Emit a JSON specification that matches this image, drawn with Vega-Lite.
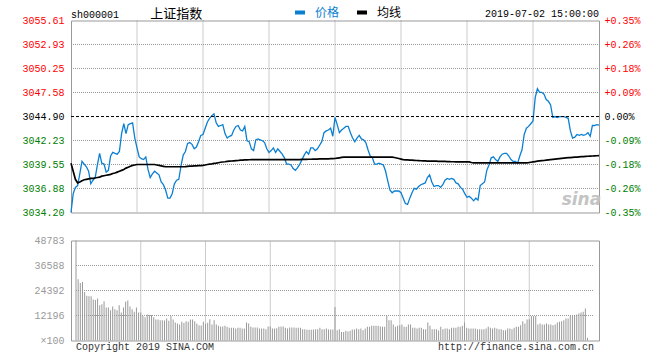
{
"$schema": "https://vega.github.io/schema/vega-lite/v6.json",
"padding": {"left": 21, "top": 5.5, "right": 4, "bottom": 0},
"background": "white",
"config": {
  "font": "Liberation Mono",
  "view": {"stroke": "#999999", "strokeWidth": 1},
  "axis": {"labelFont": "Liberation Mono", "labelFontSize": 10, "ticks": false, "domain": false, "labelOverlap": false, "grid": false}
},
"data": {"values": [
{"i":0,"p":3034.2,"a":3039.7,"v":48783},{"i":1,"p":3036.3,"a":3038.8,"v":29900},{"i":2,"p":3037.0,"a":3037.9,"v":28100},{"i":3,"p":3037.2,"a":3037.5,"v":28500},{"i":4,"p":3038.5,"a":3037.6,"v":23700},{"i":5,"p":3039.9,"a":3037.75,"v":21800},{"i":6,"p":3039.6,"a":3037.85,"v":21600},{"i":7,"p":3039.3,"a":3037.9,"v":21600},{"i":8,"p":3038.8,"a":3037.95,"v":20000},{"i":9,"p":3037.4,"a":3038.0,"v":19700},
{"i":10,"p":3037.8,"a":3038.0,"v":20500},{"i":11,"p":3038.1,"a":3038.05,"v":17200},{"i":12,"p":3039.5,"a":3038.1,"v":17700},{"i":13,"p":3040.8,"a":3038.15,"v":19200},{"i":14,"p":3039.7,"a":3038.25,"v":16100},{"i":15,"p":3039.6,"a":3038.3,"v":16100},{"i":16,"p":3038.7,"a":3038.35,"v":14800},{"i":17,"p":3038.9,"a":3038.4,"v":16600},{"i":18,"p":3040.5,"a":3038.45,"v":15300},{"i":19,"p":3040.9,"a":3038.55,"v":14800},
{"i":20,"p":3040.8,"a":3038.6,"v":17200},{"i":21,"p":3040.7,"a":3038.7,"v":13700},{"i":22,"p":3041.0,"a":3038.8,"v":16100},{"i":23,"p":3043.0,"a":3038.9,"v":18900},{"i":24,"p":3044.1,"a":3039.0,"v":19500},{"i":25,"p":3043.0,"a":3039.15,"v":16600},{"i":26,"p":3044.0,"a":3039.25,"v":15300},{"i":27,"p":3044.1,"a":3039.35,"v":14000},{"i":28,"p":3044.2,"a":3039.45,"v":16100},{"i":29,"p":3042.5,"a":3039.5,"v":13700},
{"i":30,"p":3041.4,"a":3039.55,"v":13700},{"i":31,"p":3040.4,"a":3039.55,"v":12000},{"i":32,"p":3040.2,"a":3039.55,"v":11400},{"i":33,"p":3040.1,"a":3039.55,"v":12700},{"i":34,"p":3040.4,"a":3039.55,"v":12400},{"i":35,"p":3039.0,"a":3039.55,"v":12400},{"i":36,"p":3038.1,"a":3039.55,"v":11400},{"i":37,"p":3038.5,"a":3039.55,"v":10200},{"i":38,"p":3038.8,"a":3039.55,"v":10200},{"i":39,"p":3038.6,"a":3039.5,"v":9900},
{"i":40,"p":3038.4,"a":3039.45,"v":9900},{"i":41,"p":3037.6,"a":3039.4,"v":9800},{"i":42,"p":3037.3,"a":3039.35,"v":10700},{"i":43,"p":3036.7,"a":3039.3,"v":9600},{"i":44,"p":3035.8,"a":3039.3,"v":12000},{"i":45,"p":3035.8,"a":3039.3,"v":10200},{"i":46,"p":3036.3,"a":3039.3,"v":8800},{"i":47,"p":3037.4,"a":3039.3,"v":8300},{"i":48,"p":3037.8,"a":3039.3,"v":7800},{"i":49,"p":3037.9,"a":3039.3,"v":9100},
{"i":50,"p":3039.4,"a":3039.3,"v":8500},{"i":51,"p":3040.6,"a":3039.3,"v":9400},{"i":52,"p":3041.0,"a":3039.32,"v":9100},{"i":53,"p":3041.9,"a":3039.35,"v":10200},{"i":54,"p":3042.0,"a":3039.37,"v":10200},{"i":55,"p":3041.8,"a":3039.38,"v":9400},{"i":56,"p":3041.3,"a":3039.4,"v":8300},{"i":57,"p":3041.5,"a":3039.4,"v":7500},{"i":58,"p":3042.1,"a":3039.42,"v":7300},{"i":59,"p":3042.8,"a":3039.43,"v":9100},
{"i":60,"p":3042.9,"a":3039.45,"v":8100},{"i":61,"p":3043.6,"a":3039.5,"v":8600},{"i":62,"p":3044.3,"a":3039.55,"v":10400},{"i":63,"p":3044.7,"a":3039.6,"v":7800},{"i":64,"p":3045.0,"a":3039.62,"v":9900},{"i":65,"p":3045.2,"a":3039.67,"v":7800},{"i":66,"p":3044.2,"a":3039.7,"v":7200},{"i":67,"p":3043.8,"a":3039.75,"v":6800},{"i":68,"p":3043.9,"a":3039.8,"v":6800},{"i":69,"p":3044.0,"a":3039.83,"v":7200},
{"i":70,"p":3043.0,"a":3039.86,"v":6700},{"i":71,"p":3042.5,"a":3039.9,"v":6200},{"i":72,"p":3042.7,"a":3039.92,"v":6200},{"i":73,"p":3042.8,"a":3039.94,"v":6200},{"i":74,"p":3043.4,"a":3039.96,"v":5900},{"i":75,"p":3043.8,"a":3039.98,"v":6200},{"i":76,"p":3043.9,"a":3040.0,"v":6200},{"i":77,"p":3043.4,"a":3040.03,"v":5900},{"i":78,"p":3043.3,"a":3040.05,"v":5900},{"i":79,"p":3043.8,"a":3040.06,"v":8800},
{"i":80,"p":3042.2,"a":3040.07,"v":8300},{"i":81,"p":3042.1,"a":3040.08,"v":6700},{"i":82,"p":3041.3,"a":3040.09,"v":6300},{"i":83,"p":3041.1,"a":3040.1,"v":6300},{"i":84,"p":3042.3,"a":3040.1,"v":6300},{"i":85,"p":3042.4,"a":3040.1,"v":5900},{"i":86,"p":3042.3,"a":3040.1,"v":5900},{"i":87,"p":3042.2,"a":3040.1,"v":5900},{"i":88,"p":3042.0,"a":3040.1,"v":5500},{"i":89,"p":3041.3,"a":3040.1,"v":6800},
{"i":90,"p":3040.9,"a":3040.1,"v":6800},{"i":91,"p":3041.1,"a":3040.1,"v":5900},{"i":92,"p":3041.4,"a":3040.1,"v":5900},{"i":93,"p":3040.9,"a":3040.1,"v":6000},{"i":94,"p":3041.3,"a":3040.1,"v":6700},{"i":95,"p":3041.0,"a":3040.1,"v":6800},{"i":96,"p":3040.7,"a":3040.1,"v":6800},{"i":97,"p":3040.3,"a":3040.1,"v":6200},{"i":98,"p":3039.6,"a":3040.1,"v":5900},{"i":99,"p":3039.6,"a":3040.1,"v":6300},
{"i":100,"p":3039.5,"a":3040.1,"v":6300},{"i":101,"p":3039.1,"a":3040.1,"v":6300},{"i":102,"p":3038.9,"a":3040.1,"v":6200},{"i":103,"p":3039.2,"a":3040.1,"v":6200},{"i":104,"p":3039.6,"a":3040.1,"v":6200},{"i":105,"p":3040.1,"a":3040.12,"v":5500},{"i":106,"p":3040.6,"a":3040.12,"v":5500},{"i":107,"p":3041.0,"a":3040.13,"v":5200},{"i":108,"p":3040.7,"a":3040.14,"v":5200},{"i":109,"p":3041.4,"a":3040.14,"v":5200},
{"i":110,"p":3041.4,"a":3040.15,"v":5400},{"i":111,"p":3041.1,"a":3040.16,"v":5500},{"i":112,"p":3041.3,"a":3040.16,"v":5500},{"i":113,"p":3041.7,"a":3040.17,"v":6200},{"i":114,"p":3042.1,"a":3040.17,"v":5500},{"i":115,"p":3043.1,"a":3040.18,"v":5500},{"i":116,"p":3043.3,"a":3040.19,"v":5900},{"i":117,"p":3043.4,"a":3040.19,"v":5400},{"i":118,"p":3043.6,"a":3040.2,"v":5400},{"i":119,"p":3042.7,"a":3040.2,"v":5400},
{"i":120,"p":3044.8,"a":3040.22,"v":16400},{"i":121,"p":3044.0,"a":3040.26,"v":5000},{"i":122,"p":3043.1,"a":3040.3,"v":5500},{"i":123,"p":3043.4,"a":3040.34,"v":4200},{"i":124,"p":3043.6,"a":3040.37,"v":4200},{"i":125,"p":3043.8,"a":3040.37,"v":4700},{"i":126,"p":3043.8,"a":3040.37,"v":4400},{"i":127,"p":3043.1,"a":3040.37,"v":4700},{"i":128,"p":3042.5,"a":3040.37,"v":5400},{"i":129,"p":3042.1,"a":3040.37,"v":5400},
{"i":130,"p":3042.5,"a":3040.37,"v":5900},{"i":131,"p":3042.8,"a":3040.37,"v":5500},{"i":132,"p":3042.4,"a":3040.37,"v":5900},{"i":133,"p":3042.3,"a":3040.37,"v":5000},{"i":134,"p":3042.0,"a":3040.37,"v":5900},{"i":135,"p":3041.2,"a":3040.37,"v":6700},{"i":136,"p":3040.5,"a":3040.37,"v":6700},{"i":137,"p":3040.3,"a":3040.37,"v":7200},{"i":138,"p":3039.6,"a":3040.37,"v":7200},{"i":139,"p":3039.6,"a":3040.37,"v":7200},
{"i":140,"p":3039.7,"a":3040.37,"v":7200},{"i":141,"p":3039.6,"a":3040.37,"v":6800},{"i":142,"p":3039.5,"a":3040.37,"v":6700},{"i":143,"p":3038.8,"a":3040.37,"v":6700},{"i":144,"p":3037.7,"a":3040.37,"v":12000},{"i":145,"p":3036.7,"a":3040.37,"v":9900},{"i":146,"p":3036.4,"a":3040.37,"v":9900},{"i":147,"p":3036.6,"a":3040.33,"v":7800},{"i":148,"p":3036.6,"a":3040.28,"v":6700},{"i":149,"p":3036.6,"a":3040.22,"v":7200},
{"i":150,"p":3036.4,"a":3040.16,"v":7500},{"i":151,"p":3035.8,"a":3040.1,"v":7800},{"i":152,"p":3035.2,"a":3040.07,"v":6700},{"i":153,"p":3035.1,"a":3040.06,"v":6700},{"i":154,"p":3035.8,"a":3040.05,"v":7800},{"i":155,"p":3036.4,"a":3040.04,"v":7800},{"i":156,"p":3036.9,"a":3040.02,"v":6200},{"i":157,"p":3036.8,"a":3040.0,"v":6200},{"i":158,"p":3037.1,"a":3039.99,"v":5900},{"i":159,"p":3037.3,"a":3039.97,"v":6200},
{"i":160,"p":3037.4,"a":3039.96,"v":6200},{"i":161,"p":3037.5,"a":3039.95,"v":5500},{"i":162,"p":3038.1,"a":3039.94,"v":5500},{"i":163,"p":3038.4,"a":3039.94,"v":8800},{"i":164,"p":3037.6,"a":3039.93,"v":7200},{"i":165,"p":3037.1,"a":3039.92,"v":5500},{"i":166,"p":3037.2,"a":3039.92,"v":5500},{"i":167,"p":3037.2,"a":3039.91,"v":5500},{"i":168,"p":3037.0,"a":3039.9,"v":4900},{"i":169,"p":3037.3,"a":3039.9,"v":6700},
{"i":170,"p":3037.8,"a":3039.89,"v":5500},{"i":171,"p":3038.0,"a":3039.88,"v":5900},{"i":172,"p":3037.9,"a":3039.87,"v":5900},{"i":173,"p":3038.0,"a":3039.86,"v":5500},{"i":174,"p":3037.9,"a":3039.86,"v":6200},{"i":175,"p":3037.5,"a":3039.85,"v":6200},{"i":176,"p":3037.4,"a":3039.85,"v":6200},{"i":177,"p":3037.0,"a":3039.85,"v":6700},{"i":178,"p":3036.8,"a":3039.85,"v":6700},{"i":179,"p":3036.3,"a":3039.85,"v":7200},
{"i":180,"p":3035.9,"a":3039.85,"v":8800},{"i":181,"p":3036.0,"a":3039.85,"v":6200},{"i":182,"p":3035.8,"a":3039.78,"v":5900},{"i":183,"p":3035.5,"a":3039.73,"v":5900},{"i":184,"p":3035.8,"a":3039.73,"v":5900},{"i":185,"p":3035.6,"a":3039.73,"v":5900},{"i":186,"p":3037.2,"a":3039.73,"v":5500},{"i":187,"p":3037.4,"a":3039.73,"v":5500},{"i":188,"p":3037.6,"a":3039.73,"v":5500},{"i":189,"p":3038.9,"a":3039.73,"v":5500},
{"i":190,"p":3039.5,"a":3039.73,"v":5900},{"i":191,"p":3040.3,"a":3039.73,"v":6700},{"i":192,"p":3040.4,"a":3039.73,"v":6200},{"i":193,"p":3040.1,"a":3039.73,"v":5900},{"i":194,"p":3039.9,"a":3039.73,"v":6200},{"i":195,"p":3040.4,"a":3039.73,"v":5900},{"i":196,"p":3040.7,"a":3039.73,"v":5500},{"i":197,"p":3040.8,"a":3039.73,"v":5500},{"i":198,"p":3040.8,"a":3039.73,"v":5000},{"i":199,"p":3040.5,"a":3039.73,"v":5000},
{"i":200,"p":3040.1,"a":3039.73,"v":5900},{"i":201,"p":3039.9,"a":3039.73,"v":5900},{"i":202,"p":3039.9,"a":3039.73,"v":5500},{"i":203,"p":3039.7,"a":3039.73,"v":6200},{"i":204,"p":3040.5,"a":3039.73,"v":6700},{"i":205,"p":3041.2,"a":3039.73,"v":6700},{"i":206,"p":3042.9,"a":3039.73,"v":7500},{"i":207,"p":3043.6,"a":3039.73,"v":9400},{"i":208,"p":3043.8,"a":3039.76,"v":8300},{"i":209,"p":3044.1,"a":3039.8,"v":10200},
{"i":210,"p":3044.4,"a":3039.84,"v":10400},{"i":211,"p":3047.0,"a":3039.88,"v":12000},{"i":212,"p":3048.0,"a":3039.92,"v":12000},{"i":213,"p":3047.6,"a":3039.95,"v":12000},{"i":214,"p":3047.6,"a":3039.98,"v":7800},{"i":215,"p":3047.4,"a":3040.0,"v":8300},{"i":216,"p":3046.8,"a":3040.03,"v":7800},{"i":217,"p":3046.6,"a":3040.06,"v":7800},{"i":218,"p":3046.2,"a":3040.09,"v":8300},{"i":219,"p":3044.8,"a":3040.12,"v":7800},
{"i":220,"p":3044.9,"a":3040.15,"v":7800},{"i":221,"p":3044.8,"a":3040.18,"v":7500},{"i":222,"p":3044.9,"a":3040.21,"v":7800},{"i":223,"p":3044.9,"a":3040.24,"v":8800},{"i":224,"p":3044.9,"a":3040.27,"v":9100},{"i":225,"p":3044.8,"a":3040.3,"v":9400},{"i":226,"p":3044.7,"a":3040.32,"v":9900},{"i":227,"p":3043.3,"a":3040.33,"v":10700},{"i":228,"p":3042.5,"a":3040.35,"v":10700},{"i":229,"p":3042.6,"a":3040.37,"v":12000},
{"i":230,"p":3042.9,"a":3040.38,"v":12000},{"i":231,"p":3042.8,"a":3040.4,"v":12300},{"i":232,"p":3042.9,"a":3040.42,"v":12700},{"i":233,"p":3042.8,"a":3040.43,"v":13200},{"i":234,"p":3042.9,"a":3040.45,"v":13700},{"i":235,"p":3043.1,"a":3040.47,"v":14000},{"i":236,"p":3042.7,"a":3040.49,"v":15600},{"i":237,"p":3043.9,"a":3040.5,"v":1300},{"i":238,"p":3043.9,"a":3040.52,"v":0},{"i":239,"p":3044.0,"a":3040.53,"v":0},
{"i":240,"p":3043.94,"a":3040.55,"v":0}
]},
"bounds": "flush",
"spacing": 28,
"vconcat": [
 {
  "width": 528, "height": 192,
  "resolve": {"axis": {"y": "independent"}},
  "layer": [
   {
    "data": {"values": [{"g": 30}, {"g": 60}, {"g": 90}, {"g": 120}, {"g": 150}, {"g": 180}, {"g": 210}]},
    "mark": {"type": "rule", "color": "#999999", "strokeDash": [1, 1], "strokeWidth": 1},
    "encoding": {"x": {"field": "g", "type": "quantitative", "axis": null}}
   },
   {
    "data": {"values": [{"h": 3036.88}, {"h": 3039.55}, {"h": 3042.23}, {"h": 3047.58}, {"h": 3050.25}, {"h": 3052.93}]},
    "mark": {"type": "rule", "color": "#999999", "strokeDash": [1, 1], "strokeWidth": 1},
    "encoding": {"y": {"field": "h", "type": "quantitative", "axis": null}, "x": {"datum": 0, "type": "quantitative", "axis": null}, "x2": {"datum": 240}}
   },
   {
    "mark": {"type": "line", "strokeWidth": 1.3},
    "encoding": {
     "x": {"field": "i", "type": "quantitative", "scale": {"domain": [0, 240], "nice": false, "zero": false},
       "axis": {"values": [0, 30, 60, 90, 120, 150, 180, 210, 240], "labelExpr": "['09:30','10:00','10:30','11:00','11:30','13:30','14:00','14:30','15:00'][round(datum.value/30)]", "labelColor": "#0b7fd1", "labelPadding": 3, "labelFlush": false, "labelBound": false, "title": null}},
     "y": {"field": "p", "type": "quantitative", "scale": {"domain": [3034.2, 3055.61], "nice": false, "zero": false},
       "axis": {"orient": "left", "values": [3034.2, 3036.88, 3039.55, 3042.23, 3044.9, 3047.58, 3050.25, 3052.93, 3055.61], "format": ".2f", "labelPadding": 7, "title": null,
         "labelColor": {"condition": [{"test": "datum.value > 3044.91", "value": "#ff0000"}, {"test": "datum.value < 3044.89", "value": "#008000"}], "value": "#000000"}}},
     "color": {"datum": "价格", "type": "nominal", "scale": {"domain": ["价格", "均线"], "range": ["#0b7fd1", "#000000"]},
       "legend": {"orient": "none", "legendX": 222, "legendY": -15, "direction": "horizontal", "title": null, "symbolType": "stroke", "symbolStrokeWidth": 4, "symbolSize": 100, "labelFont": "Noto Sans CJK SC", "labelFontSize": 12, "labelOffset": 8, "columnPadding": 9, "padding": 0,
         "encode": {"labels": {"update": {"fill": {"signal": "datum.value === '价格' ? '#0b7fd1' : '#000000'"}}}}}}
    }
   },
   {
    "mark": {"type": "line", "strokeWidth": 1.7},
    "encoding": {
     "x": {"field": "i", "type": "quantitative", "axis": null},
     "y": {"field": "a", "type": "quantitative", "axis": null},
     "color": {"datum": "均线", "type": "nominal"}
    }
   },
   {
    "data": {"values": [{"prev_close": 3044.9}]},
    "mark": {"type": "rule", "color": "#000000", "strokeDash": [3, 2], "strokeWidth": 1},
    "encoding": {
     "y": {"field": "prev_close", "type": "quantitative",
       "axis": {"orient": "right", "values": [3034.2, 3036.88, 3039.55, 3042.23, 3044.9, 3047.58, 3050.25, 3052.93, 3055.61], "labelExpr": "(datum.value > 3044.91 ? '+' : (datum.value < 3044.89 ? '-' : '')) + format(abs(datum.value - 3044.9) / 3044.9 * 100, '.2f') + '%'", "labelPadding": 5, "title": null,
         "labelColor": {"condition": [{"test": "datum.value > 3044.91", "value": "#ff0000"}, {"test": "datum.value < 3044.89", "value": "#008000"}], "value": "#000000"}}}
    }
   },
   {
    "data": {"values": [{"t": "sh000001"}]},
    "mark": {"type": "text", "align": "left", "baseline": "alphabetic", "font": "Liberation Mono", "fontSize": 10, "dy": -3, "color": "#000000"},
    "encoding": {"text": {"field": "t"}, "x": {"datum": 0, "type": "quantitative", "axis": null}, "y": {"datum": 3055.61, "type": "quantitative", "axis": null}}
   },
   {
    "data": {"values": [{"t": "上证指数"}]},
    "mark": {"type": "text", "align": "left", "baseline": "alphabetic", "font": "Noto Sans CJK SC", "fontSize": 13, "dy": -3, "color": "#000000"},
    "encoding": {"text": {"field": "t"}, "x": {"datum": 36, "type": "quantitative", "axis": null}, "y": {"datum": 3055.61, "type": "quantitative", "axis": null}}
   },
   {
    "data": {"values": [{"t": "2019-07-02 15:00:00"}]},
    "mark": {"type": "text", "align": "right", "baseline": "alphabetic", "font": "Liberation Mono", "fontSize": 10, "dy": -4, "color": "#000000"},
    "encoding": {"text": {"field": "t"}, "x": {"datum": 240, "type": "quantitative", "axis": null}, "y": {"datum": 3055.61, "type": "quantitative", "axis": null}}
   },
   {
    "data": {"values": [{"t": "sina"}]},
    "mark": {"type": "text", "align": "center", "baseline": "middle", "font": "DejaVu Sans", "fontSize": 17, "fontStyle": "italic", "fontWeight": "bold", "color": "#c4c4c4"},
    "encoding": {"text": {"field": "t"}, "x": {"datum": 232, "type": "quantitative", "axis": null}, "y": {"datum": 3035.6, "type": "quantitative", "axis": null}}
   }
  ]
 },
 {
  "width": 528, "height": 100,
  "resolve": {"axis": {"y": "independent"}},
  "layer": [
   {
    "data": {"values": [{"g": 30}, {"g": 60}, {"g": 90}, {"g": 120}, {"g": 150}, {"g": 180}, {"g": 210}]},
    "mark": {"type": "rule", "color": "#999999", "strokeDash": [1, 1], "strokeWidth": 1},
    "encoding": {"x": {"field": "g", "type": "quantitative", "axis": null}, "y": {"datum": 0, "type": "quantitative", "axis": null}, "y2": {"datum": 48783}}
   },
   {
    "data": {"values": [{"h": 12196}, {"h": 24392}, {"h": 36588}]},
    "mark": {"type": "rule", "color": "#999999", "strokeDash": [1, 1], "strokeWidth": 1},
    "encoding": {"y": {"field": "h", "type": "quantitative", "axis": null}, "x": {"datum": 0, "type": "quantitative", "axis": null}, "x2": {"datum": 240}}
   },
   {
    "mark": {"type": "bar", "orient": "vertical", "width": 1, "color": "#999999"},
    "encoding": {
     "x": {"field": "i", "type": "quantitative", "scale": {"domain": [0, 240], "nice": false, "zero": false},
       "axis": {"values": [0, 30, 60, 90, 120, 150, 180, 210, 240], "labels": false, "title": null}},
     "y": {"field": "v", "type": "quantitative", "scale": {"domain": [0, 48783], "nice": false, "zero": true},
       "axis": {"orient": "left", "values": [0, 12196, 24392, 36588, 48783], "labelExpr": "datum.value == 0 ? '×100' : format(datum.value, 'd')", "labelColor": "#999999", "labelPadding": 7, "title": null}}
    }
   },
   {
    "data": {"values": [{"t": "Copyright 2019 SINA.COM"}]},
    "mark": {"type": "text", "align": "left", "baseline": "top", "font": "Liberation Mono", "fontSize": 10, "dy": 1, "color": "#333333"},
    "encoding": {"text": {"field": "t"}, "x": {"datum": 0, "type": "quantitative", "axis": null}, "y": {"datum": 0, "type": "quantitative", "axis": null}}
   },
   {
    "data": {"values": [{"t": "http://finance.sina.com.cn"}]},
    "mark": {"type": "text", "align": "right", "baseline": "top", "font": "Liberation Mono", "fontSize": 10, "dy": 1, "color": "#333333"},
    "encoding": {"text": {"field": "t"}, "x": {"datum": 240, "type": "quantitative", "axis": null}, "y": {"datum": 0, "type": "quantitative", "axis": null}}
   }
  ]
 }
]
}
